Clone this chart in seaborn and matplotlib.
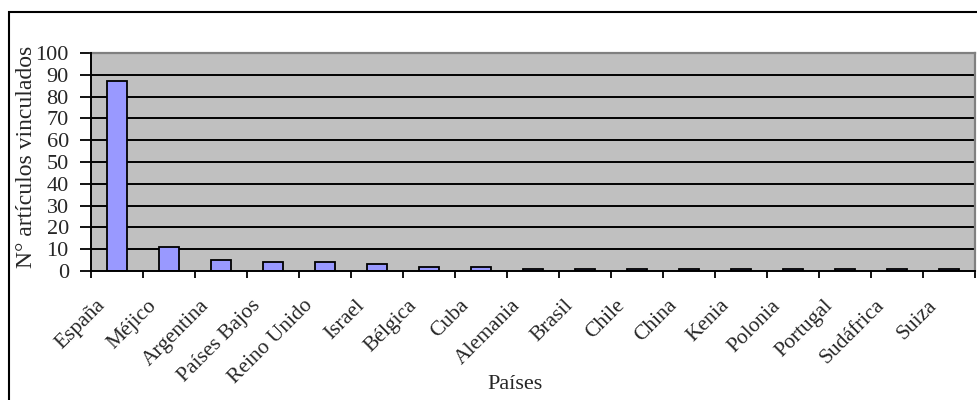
import matplotlib
matplotlib.use("Agg")
import matplotlib.pyplot as plt
from matplotlib.patches import Rectangle
from matplotlib.transforms import ScaledTranslation
import seaborn as sns
import pandas as pd
import numpy as np

paises = ["España", "Méjico", "Argentina", "Países Bajos", "Reino Unido", "Israel",
          "Bélgica", "Cuba", "Alemania", "Brasil", "Chile", "China", "Kenia",
          "Polonia", "Portugal", "Sudáfrica", "Suiza"]
articulos = [87, 11, 5, 4, 4, 3, 2, 2, 1, 1, 1, 1, 1, 1, 1, 1, 1]
y_ticks = [0, 10, 20, 30, 40, 50, 60, 70, 80, 90, 100]

sns.set_theme(style="white")
plt.rcParams["font.family"] = ["Liberation Serif", "DejaVu Serif"]

df = pd.DataFrame({"Países": paises, "Artículos": articulos})

fig = plt.figure(figsize=(9.78, 4.0), dpi=100)
fig.patch.set_facecolor("white")
ax = fig.add_axes([91 / 978, 1 - 271 / 400, (975 - 91) / 978, (271 - 53) / 400])

sns.barplot(data=df, x="Países", y="Artículos", color="#9999FF",
            edgecolor="black", linewidth=1.3, width=0.39, saturation=1, ax=ax, zorder=3)

ax.set_facecolor("#C0C0C0")
ax.set_ylim(0, 100)
ax.set_xlim(-0.5, len(paises) - 0.5)
ax.set_yticks(y_ticks)
ax.set_yticklabels([str(t) for t in y_ticks], fontsize=16)
for t in y_ticks[1:-1]:
    ax.axhline(t, color="black", linewidth=1.4, zorder=1)

ax.set_xticks(np.arange(len(paises)))
ax.set_xticklabels(paises, rotation=45, ha="right", va="center",
                   rotation_mode="anchor", fontsize=15.5)
ax.set_xticks(np.arange(len(paises) + 1) - 0.5, minor=True)
ax.tick_params(axis="x", which="major", length=0, pad=0)
ax.tick_params(axis="x", which="minor", length=5, width=1.3, color="black", direction="out")
ax.tick_params(axis="y", length=8, width=1.3, color="black", direction="out", pad=8)
ax.tick_params(bottom=True, left=True, which="both")

# shift the rotated country names so their ends sit just left of each category
offset = ScaledTranslation(-15 / 100, -32 / 100, fig.dpi_scale_trans)
for lbl in ax.get_xticklabels():
    lbl.set_transform(lbl.get_transform() + offset)

for side in ["left", "bottom"]:
    ax.spines[side].set_color("black")
    ax.spines[side].set_linewidth(1.4)
    ax.spines[side].set_zorder(4)
for side in ["top", "right"]:
    ax.spines[side].set_color("#808080")
    ax.spines[side].set_linewidth(1.6)

ax.set_ylabel("N° artículos vinculados", fontsize=17)
ax.yaxis.set_label_coords((37 - 91) / 884, (271 - 157) / 218)
ax.set_xlabel("Países", fontsize=16)
ax.xaxis.set_label_coords((515 - 91) / 884, -(375 - 271) / 218)

fig.patches.append(Rectangle((9 / 978, -0.1), 1.1, 1 - 12 / 400 + 0.1,
                             transform=fig.transFigure, fill=False,
                             edgecolor="black", linewidth=1.5))

fig.savefig("out.png", dpi=100)
